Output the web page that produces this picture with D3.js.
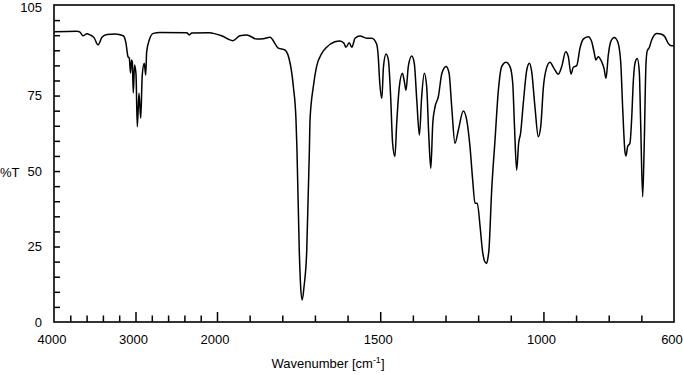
<!DOCTYPE html>
<html><head><meta charset="utf-8">
<script src="https://cdn.jsdelivr.net/npm/d3@7"></script>
<style>
body{margin:0;background:#fff}
svg{display:block}
text{font-family:"Liberation Sans",Arial,Helvetica,sans-serif;font-size:13px;fill:#000}
</style>
</head><body>
<svg id="c" width="683" height="375"></svg>
<script>
// Spectrum data: wavenumber (cm-1) and %T
const wavenumber = [
 4000,3718,3681,3644,3595,3558,3509,3460,3411,3350,3252,3150,3117,3092,3076,3061,3049,3039,3027,3012,2994,2978,2957,2936,2917,2892,2875,2863,2831,2782,2699,2372,2340,2310,2086,2045,
 1986,1952,1930,1909,1878,1858,1838,1812,1792,1776,1766,1758,1755,1748,1744,1739,1733.5,1725,1717,1715,1705,1695,1679,1664,1639,1623,1611,1605,1595,1587,1577,1562,1541,1526,1511,1506,1502,1495,1490,1482,1475,1468,1462,1455,1449.5,1441.5,1432,1426,1421,1414,1403.5,1395.6,1388,1380,1373,1365,1357.6,1351.5,1345,1339,1332,1322,1311,1298,1289,1281,1271,1260.6,1245.5,1235,1225,1216.7,1209.6,1202.6,1194,1187,1180.5,1174,1170,1167,1158.5,1148.3,1138,1127.8,1114.6,1102.4,1094,1089,1082,1076,1070,1061.7,1051,1043,1036,1026,1015.7,1008.3,1000,992,980,967.6,954.4,944,931.8,923.8,915.5,908.5,898,888,878,862.6,852,845,839,832,821.5,814.4,808.3,801.3,794,782.9,772.5,763.3,757.2,750.2,747,742,735,729.6,724.7,718.5,712.4,706.3,702,696,691,686,682,675.7,668.4,653,638,628,617.8,607.5,600
];
const transmittance = [
 96.1,96.3,96.0,94.8,95.5,95.1,94.2,91.8,94.3,95.2,95.4,94.8,92.4,87.9,87.4,82.5,86.8,86.1,75.9,85.1,82.1,64.7,75.8,67.5,81.8,85.7,81.8,89.5,93.4,95.6,95.9,95.8,95.1,95.7,95.8,95.6,
 94.8,93.2,94.8,95.1,93.7,93.8,94.3,90.7,90.1,85.7,77.9,66.9,57.0,23.8,12.3,7.3,11.6,23.8,57.0,66.9,77.9,84.6,89.0,91.0,92.8,93.1,92.3,91.0,92.5,91.0,94.0,94.7,94.0,94.0,92.1,87.9,80.2,74.1,84.6,88.8,86.8,74.6,59.2,54.8,65.8,77.9,82.4,79.6,76.8,84.6,88.1,85.7,73.5,61.9,74.6,82.4,77.9,62.5,50.9,65.8,71.3,74.6,82.4,84.6,82.4,71.3,59.2,63.6,69.9,66.9,58.1,47.0,39.3,39.3,31.6,23.8,20.2,19.4,21.2,23.8,43.7,60.3,76.8,84.6,86.0,84.6,79.1,65.8,50.3,59.2,62.5,72.4,83.5,85.7,82.9,71.3,61.4,64.7,77.9,83.5,86.0,84.0,82.1,84.6,89.5,87.9,82.1,84.4,84.9,90.7,93.7,94.5,92.8,89.5,86.8,87.9,86.2,84.0,80.7,88.4,92.8,94.2,92.8,86.2,70.8,56.4,55.0,58.1,59.2,67.5,79.6,86.2,87.3,82.9,65.3,41.5,59.7,85.1,89.8,90.9,93.4,95.6,95.3,94.5,92.3,91.5,91.5
];
const xLabelTicks = [4000,3000,2000,1500,1000,600];
const xMajorTicks = [3000,2000,1500,1000];
const xMinorTicks = [3800,3600,3400,3200,2800,2600,2400,2200,1900,1800,1700,1600,1400,1300,1200,1100,900,800,700];
const yLabelTicks = [0,25,50,75,105];
const yMinorTicks = [5,10,15,20,25,30,35,40,45,50,55,60,65,70,75,80,85,90,95,100];

const svg = d3.select("#c");
const L = 54, R = 674, T = 5, B = 322;
const x = d3.scaleLinear().domain([4000,2000,600]).range([L,217,R]);
const y = d3.scaleLinear().domain([0,105]).range([B,T]);

const axisColor = "#000";
// x ticks (inward)
svg.append("g").attr("transform",`translate(0,${B})`)
  .call(d3.axisBottom(x).tickValues(xMinorTicks).tickSize(-6.5).tickFormat(""))
  .call(g=>g.select(".domain").remove())
  .call(g=>g.selectAll("line").attr("stroke",axisColor).attr("stroke-width",1.5));
svg.append("g").attr("transform",`translate(0,${B})`)
  .call(d3.axisBottom(x).tickValues(xMajorTicks).tickSize(-10).tickFormat(""))
  .call(g=>g.select(".domain").remove())
  .call(g=>g.selectAll("line").attr("stroke",axisColor).attr("stroke-width",1.5));
// y ticks (inward)
svg.append("g").attr("transform",`translate(${L},0)`)
  .call(d3.axisLeft(y).tickValues(yMinorTicks).tickSize(-6).tickFormat(""))
  .call(g=>g.select(".domain").remove())
  .call(g=>g.selectAll("line").attr("stroke",axisColor).attr("stroke-width",1.5));

// frame
svg.append("rect").attr("x",L).attr("y",T).attr("width",R-L).attr("height",B-T)
  .attr("fill","none").attr("stroke",axisColor).attr("stroke-width",1.6);

// tick labels
svg.append("g").selectAll("text").data(xLabelTicks).join("text")
  .attr("x",d=>x(d)-2).attr("y",344).attr("text-anchor","middle").text(d=>d);
svg.append("g").selectAll("text").data(yLabelTicks).join("text")
  .attr("x",42).attr("y",d=>Math.max(y(d)+4.5,11.5)).attr("text-anchor","end").text(d=>d);

// axis titles
svg.append("text").attr("x",0).attr("y",177).text("%T");
const xt = svg.append("text").attr("x",328).attr("y",368).attr("text-anchor","middle");
xt.append("tspan").text("Wavenumber [cm");
xt.append("tspan").attr("dy",-5).attr("font-size","9px").text("-1");
xt.append("tspan").attr("dy",5).text("]");

// spectrum
const pts = wavenumber.map((w,i)=>[w,transmittance[i]]);
svg.append("path").datum(pts)
  .attr("fill","none").attr("stroke","#000").attr("stroke-width",1.5).attr("stroke-linejoin","round")
  .attr("d", d3.line().x(d=>x(d[0])).y(d=>y(d[1])).curve(d3.curveMonotoneX));
</script>
</body></html>
